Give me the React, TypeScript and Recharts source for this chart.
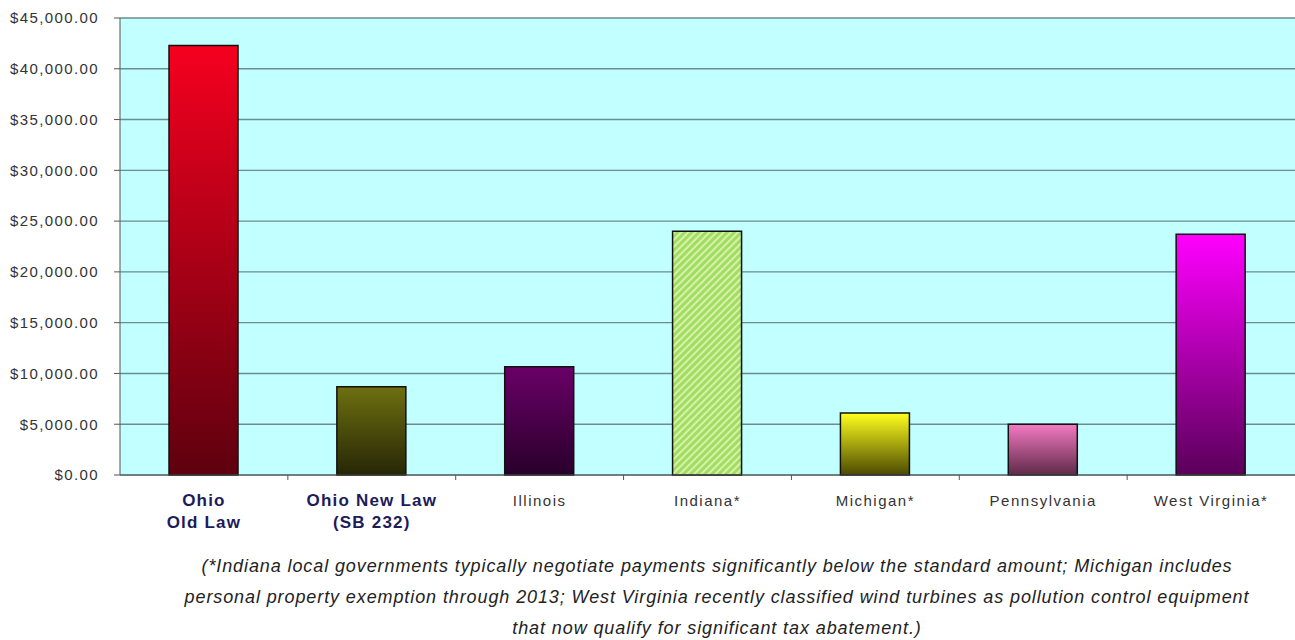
import { BarChart, Bar, XAxis, YAxis, CartesianGrid, Cell } from 'recharts';

const categories = [
  'Ohio\nOld Law',
  'Ohio New Law\n(SB 232)',
  'Illinois',
  'Indiana*',
  'Michigan*',
  'Pennsylvania',
  'West Virginia*',
];
const values = [42300, 8700, 10650, 24000, 6100, 5000, 23700];
const highlighted = [true, true, false, false, false, false, false];
const yTicks = [0, 5000, 10000, 15000, 20000, 25000, 30000, 35000, 40000, 45000];
const footnote = [
  '(*Indiana local governments typically negotiate payments significantly below the standard amount; Michigan includes',
  'personal property exemption through 2013; West Virginia recently classified wind turbines as pollution control equipment',
  'that now qualify for significant tax abatement.)',
];

// top / bottom colours of each bar's gradient (Indiana is hatched instead)
const gradients = [
  ['#f5001f', '#5e000e'],
  ['#6e7010', '#262606'],
  ['#6a0068', '#28002a'],
  null,
  ['#ffff1e', '#4c4a00'],
  ['#f47ac2', '#5e2a48'],
  ['#ff00ff', '#5a005a'],
];

const data = categories.map((name, i) => ({ name, value: values[i] }));

const W = 1295;
const LEFT = 120;
const PLOT_W = W - LEFT;
const BAND = PLOT_W / categories.length;
const FONT = '"Liberation Sans", Arial, sans-serif';

const money = (v: number) =>
  '$' + v.toLocaleString('en-US', { minimumFractionDigits: 2, maximumFractionDigits: 2 });

function CategoryTick(props: any) {
  const { x, y, payload, index } = props;
  const lines = String(payload.value).split('\n');
  const bold = highlighted[index];
  const axisY = y - 8;
  return (
    <g>
      {index > 0 && (
        <line x1={x - BAND / 2} x2={x - BAND / 2} y1={axisY} y2={axisY + 5} stroke="#555" />
      )}
      <text
        x={x}
        y={axisY + 31}
        textAnchor="middle"
        fontFamily={FONT}
        fontSize={bold ? 17 : 15}
        fontWeight={bold ? 'bold' : 'normal'}
        letterSpacing={bold ? 1.2 : 1.5}
        fill={bold ? '#1c1c5a' : '#333'}
      >
        {lines.map((l, i) => (
          <tspan key={i} x={x} dy={i === 0 ? 0 : 22}>
            {l}
          </tspan>
        ))}
      </text>
    </g>
  );
}

export default function App() {
  return (
    <div style={{ position: 'absolute', left: 0, top: 0, width: W, height: 640, background: '#fff' }}>
      <BarChart
        width={W}
        height={540}
        data={data}
        margin={{ top: 18, right: 0, bottom: 0, left: 0 }}
        barCategoryGap={0}
      >
        <defs>
          {gradients.map((g, i) =>
            g ? (
              <linearGradient key={i} id={`bar${i}`} x1="0" y1="0" x2="0" y2="1">
                <stop offset="0%" stopColor={g[0]} />
                <stop offset="100%" stopColor={g[1]} />
              </linearGradient>
            ) : null
          )}
          <pattern id="hatch" patternUnits="userSpaceOnUse" width="5" height="5" patternTransform="rotate(45)">
            <rect width="5" height="5" fill="#a2dc62" />
            <line x1="1" y1="0" x2="1" y2="5" stroke="#d4f3a8" strokeWidth="2" />
          </pattern>
        </defs>
        <CartesianGrid vertical={false} fill="#c2ffff" stroke="#6a8e8e" strokeWidth={1.4} />
        <XAxis
          dataKey="name"
          interval={0}
          height={65}
          tickLine={false}
          axisLine={{ stroke: '#555' }}
          tick={<CategoryTick />}
        />
        <YAxis
          width={LEFT}
          domain={[0, 45000]}
          ticks={yTicks}
          tickFormatter={money}
          tickSize={6}
          tickLine={{ stroke: '#555' }}
          axisLine={{ stroke: '#555' }}
          tick={{ fontFamily: FONT, fontSize: 15, fill: '#333', letterSpacing: 1.4 }}
          tickMargin={15}
        />
        <Bar dataKey="value" barSize={69} stroke="#111" strokeWidth={1.5} isAnimationActive={false}>
          {data.map((_, i) => (
            <Cell key={i} fill={gradients[i] ? `url(#bar${i})` : 'url(#hatch)'} />
          ))}
        </Bar>
      </BarChart>
      <div
        style={{
          position: 'absolute',
          left: 167,
          width: 1100,
          top: 551,
          textAlign: 'center',
          fontFamily: FONT,
          fontStyle: 'italic',
          fontSize: 18,
          letterSpacing: 0.9,
          lineHeight: '31px',
          color: '#222',
        }}
      >
        {footnote.map((l, i) => (
          <div key={i}>{l}</div>
        ))}
      </div>
    </div>
  );
}
